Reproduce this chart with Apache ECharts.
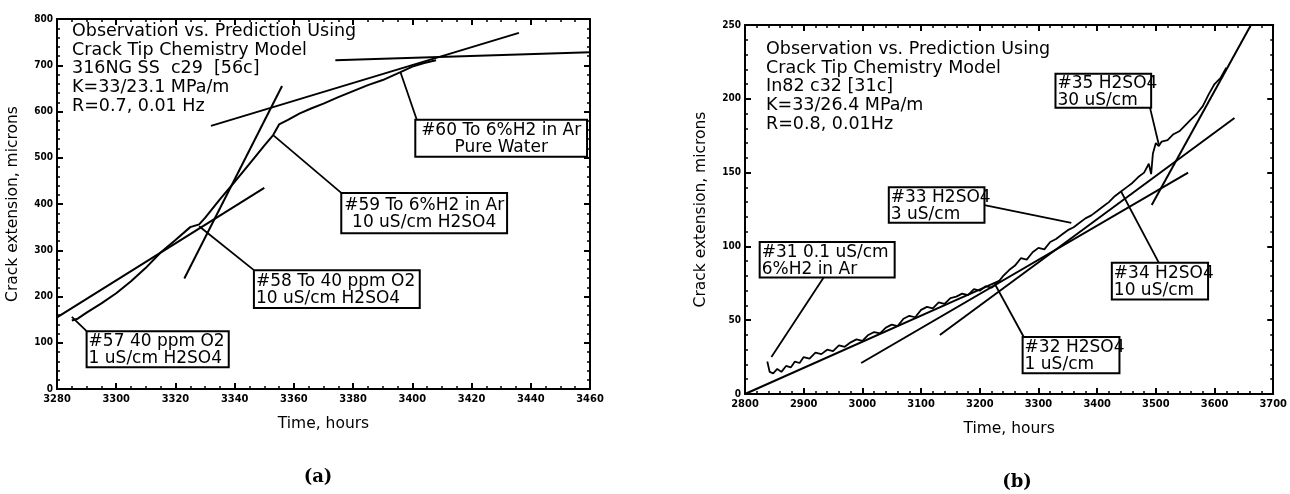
<!DOCTYPE html>
<html>
<head>
<meta charset="utf-8">
<script src="https://cdn.jsdelivr.net/npm/echarts@6/dist/echarts.min.js"></script>
<style>
html, body { margin: 0; padding: 0; background: #fff; }
#main { width: 1290px; height: 494px; }
</style>
</head>
<body>
<div id="main"></div>
<script>
// (a) 316NG SS c29 - measured crack length
var aTime  = [3285, 3287, 3290, 3295, 3300, 3305, 3310, 3315, 3320, 3325, 3328, 3330, 3335, 3340, 3345, 3350, 3353, 3355, 3358, 3362, 3366, 3370, 3375, 3380, 3385, 3390, 3396, 3400, 3404, 3408];
var aCrack = [148, 152, 165, 185, 207, 233, 262, 295, 322, 350, 356, 370, 410, 448, 487, 526, 549, 572, 582, 596, 607, 617, 631, 644, 657, 668, 685, 697, 705, 711];
// (a) predicted slopes, [start, end]
var aPred = [
	[[3280, 155], [3350, 435]],
	[[3323, 239], [3356, 655]],
	[[3332, 569], [3436, 770]],
	[[3374, 711], [3460, 728]]
];

// (b) In82 c32 - measured crack length
var bTime  = [2838, 2842, 2848, 2855, 2862, 2870, 2878, 2885, 2893,
	2900, 2910, 2920, 2930, 2940, 2950, 2960, 2970, 2980, 2990,
	3000, 3010, 3020, 3030, 3040, 3050, 3060, 3070, 3080, 3090,
	3100, 3110, 3120, 3130, 3140, 3150, 3160, 3170, 3180, 3190,
	3200, 3210, 3220, 3230, 3240, 3250, 3260, 3270, 3280, 3290,
	3300, 3310, 3320, 3330, 3340, 3350, 3360, 3370, 3380, 3390,
	3400, 3410, 3420, 3430, 3440, 3450, 3460, 3470, 3480,
	3488, 3492, 3495, 3500, 3505, 3510,
	3520, 3530, 3540, 3550, 3560, 3570, 3580, 3590, 3600, 3610, 3620];
var bCrack = [22, 15, 14, 17, 15, 19, 18, 22, 21,
	25, 24, 28, 27, 30, 29, 33, 32, 35, 37,
	36, 40, 42, 41, 45, 47, 46, 51, 53, 52,
	57, 59, 58, 62, 61, 65, 66, 68, 67, 71,
	70, 73, 72, 75, 80, 84, 87, 92, 91, 96,
	99, 98, 103, 105, 108, 111, 113, 116, 119, 121,
	124, 127, 130, 134, 137, 140, 143, 147, 150,
	156, 149, 163, 170, 168, 171,
	172, 176, 178, 182, 186, 190, 195, 203, 210, 214, 221];
var bPred = [
	[[2800, 0], [3235, 77]],
	[[2998, 21], [3555, 150]],
	[[3132, 40], [3634, 187]],
	[[3493, 128], [3662, 250]]
];

var aInfo = ['Observation vs. Prediction Using', 'Crack Tip Chemistry Model', '316NG SS  c29  [56c]', 'K=33/23.1 MPa/m', 'R=0.7, 0.01 Hz'];
var bInfo = ['Observation vs. Prediction Using', 'Crack Tip Chemistry Model', 'In82 c32 [31c]', 'K=33/26.4 MPa/m', 'R=0.8, 0.01Hz'];

// callouts: box corners, leader start, arrow tip (data coords)
var notes = [
	{g: 0, text: ['#57 40 ppm O2', '1 uS/cm H2SO4'], box: [[3290, 125], [3338, 47]], from: [3290, 125], tip: [3285, 156]},
	{g: 0, text: ['#58 To 40 ppm O2', '10 uS/cm H2SO4'], box: [[3346.5, 257], [3402.5, 175]], from: [3346.5, 257], tip: [3328, 352]},
	{g: 0, text: ['#59 To 6%H2 in Ar', '10 uS/cm H2SO4'], box: [[3376, 424], [3432, 337]], from: [3376, 424], tip: [3353, 549], center: true},
	{g: 0, text: ['#60 To 6%H2 in Ar', 'Pure Water'], box: [[3401, 582], [3459, 502]], from: [3401.5, 582], tip: [3396, 685], center: true},
	{g: 1, text: ['#31 0.1 uS/cm', '6%H2 in Ar'], box: [[2825, 103], [3055, 79]], from: [2934, 79], tip: [2845, 25]},
	{g: 1, text: ['#33 H2SO4', '3 uS/cm'], box: [[3045, 140], [3208, 116]], from: [3208, 128], tip: [3356, 116]},
	{g: 1, text: ['#35 H2SO4', '30 uS/cm'], box: [[3329, 217], [3492, 194]], from: [3490, 194], tip: [3505, 169]},
	{g: 1, text: ['#32 H2SO4', '1 uS/cm'], box: [[3273, 38.6], [3438, 14]], from: [3275, 38.6], tip: [3225, 75]},
	{g: 1, text: ['#34 H2SO4', '10 uS/cm'], box: [[3425, 89], [3589, 64]], from: [3505, 89], tip: [3441, 137]}
];

var FONT = '"DejaVu Sans"';
var TICKFONT = '"DejaVu Sans Condensed"';

var chart = echarts.init(document.getElementById('main'));

function plain(v) {
	return String(v);
}

function axisX(gi, min, max, step, minor, main) {
	return {
		gridIndex: gi, type: 'value', min: min, max: max, interval: step,
		position: main ? 'bottom' : 'top',
		name: main ? 'Time, hours' : '', nameLocation: 'middle', nameGap: 27,
		nameTextStyle: {fontFamily: FONT, fontSize: 15.5, color: '#000'},
		axisLine: {onZero: false, lineStyle: {color: '#000', width: 2}},
		axisTick: {inside: true, length: 6, lineStyle: {color: '#000', width: 2}},
		minorTick: {show: true, splitNumber: minor, length: 3, lineStyle: {color: '#000', width: 1.5}},
		splitLine: {show: false},
		axisLabel: {show: main, formatter: plain, fontFamily: TICKFONT, fontWeight: 'bold', fontSize: 11, color: '#000', margin: 5}
	};
}

function axisY(gi, min, max, step, minor, main) {
	return {
		gridIndex: gi, type: 'value', min: min, max: max, interval: step,
		position: main ? 'left' : 'right',
		name: main ? 'Crack extension, microns' : '', nameLocation: 'middle', nameGap: 36,
		nameTextStyle: {fontFamily: FONT, fontSize: 15.5, color: '#000'},
		axisLine: {onZero: false, lineStyle: {color: '#000', width: 2}},
		axisTick: {inside: true, length: 6, lineStyle: {color: '#000', width: 2}},
		minorTick: {show: true, splitNumber: minor, length: 3, lineStyle: {color: '#000', width: 1.5}},
		splitLine: {show: false},
		axisLabel: {show: main, formatter: plain, fontFamily: TICKFONT, fontWeight: 'bold', fontSize: 10, color: '#000', margin: 4}
	};
}

function zip(xs, ys) {
	return xs.map(function(x, i) { return [x, ys[i]]; });
}

function lineSeries(xi, yi, data, width) {
	return {
		type: 'line', xAxisIndex: xi, yAxisIndex: yi, data: data,
		showSymbol: false, silent: true, animation: false,
		lineStyle: {color: '#000', width: width}
	};
}

var series = [];
series.push(lineSeries(0, 0, zip(aTime, aCrack), 2));
aPred.forEach(function(p) { series.push(lineSeries(0, 0, p, 2)); });
series.push(lineSeries(2, 2, zip(bTime, bCrack), 1.8));
bPred.forEach(function(p) { series.push(lineSeries(2, 2, p, 2)); });

// leader lines with arrow heads
[0, 1].forEach(function(g) {
	var idx = g === 0 ? 0 : 2;
	series.push({
		type: 'line', xAxisIndex: idx, yAxisIndex: idx, data: [], silent: true, animation: false,
		markLine: {
			silent: true, animation: false,
			symbol: ['none', 'arrow'], symbolSize: [0, 10],
			label: {show: false},
			lineStyle: {color: '#000', width: 1.8, type: 'solid'},
			data: notes.filter(function(n) { return n.g === g; }).map(function(n) {
				return [{coord: n.from}, {coord: n.tip}];
			})
		}
	});
});

var option = {
	backgroundColor: '#fff',
	animation: false,
	grid: [
		{left: 57, top: 19, width: 533, height: 370},
		{left: 745, top: 25, width: 536, height: 369}
	],
	xAxis: [
		axisX(0, 3280, 3460, 20, 4, true),
		axisX(0, 3280, 3460, 20, 4, false),
		axisX(1, 2800, 3700, 100, 5, true),
		axisX(1, 2800, 3700, 100, 5, false)
	],
	yAxis: [
		axisY(0, 0, 800, 100, 5, true),
		axisY(0, 0, 800, 100, 5, false),
		axisY(1, 0, 250, 50, 5, true),
		axisY(1, 0, 250, 50, 5, false)
	],
	series: series
};
chart.setOption(option);

// text blocks, callout boxes and panel captions
var graphics = [];
function infoBlock(lines, x, y) {
	graphics.push({
		type: 'text', x: x, y: y, silent: true,
		style: {text: lines.join('\n'), font: '17.5px ' + FONT, fill: '#000', lineHeight: 18.7, align: 'left', verticalAlign: 'top'}
	});
}
infoBlock(aInfo, 72, 22);
infoBlock(bInfo, 766, 40);

notes.forEach(function(n) {
	var p0 = chart.convertToPixel({gridIndex: n.g}, n.box[0]);
	var p1 = chart.convertToPixel({gridIndex: n.g}, n.box[1]);
	graphics.push({
		type: 'rect', silent: true,
		shape: {x: p0[0], y: p0[1], width: p1[0] - p0[0], height: p1[1] - p0[1]},
		style: {fill: '#fff', stroke: '#000', lineWidth: 2}
	});
	graphics.push({
		type: 'text', silent: true,
		x: n.center ? (p0[0] + p1[0]) / 2 : p0[0] + 2,
		y: (p0[1] + p1[1]) / 2 + 1,
		style: {text: n.text.join('\n'), font: '17px ' + FONT, fill: '#000', lineHeight: 17,
			align: n.center ? 'center' : 'left', verticalAlign: 'middle'}
	});
});

graphics.push({type: 'text', x: 318, y: 477, silent: true,
	style: {text: '(a)', font: 'bold 18px "DejaVu Serif"', fill: '#000', align: 'center', verticalAlign: 'middle'}});
graphics.push({type: 'text', x: 1017, y: 482, silent: true,
	style: {text: '(b)', font: 'bold 18px "DejaVu Serif"', fill: '#000', align: 'center', verticalAlign: 'middle'}});

chart.setOption({graphic: graphics});
</script>
</body>
</html>
